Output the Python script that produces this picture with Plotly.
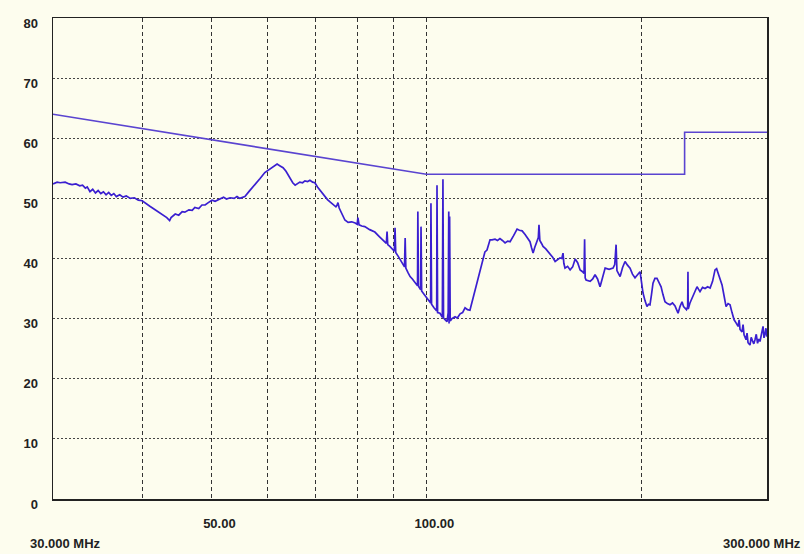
import plotly.graph_objects as go

# ---- data -------------------------------------------------------------
trace_freq_mhz = [
    30.0, 30.4, 30.7, 31.2, 31.6, 31.9, 32.3, 32.7, 33.0, 33.3,
    33.5, 33.8, 34.1, 34.4, 34.7, 35.0, 35.3, 35.6, 35.9, 36.2,
    36.5, 36.8, 37.2, 37.6, 38.0, 38.5, 39.0, 39.5, 40.0, 40.4,
    41.0, 41.6, 42.4, 42.9, 43.3, 43.7, 43.9, 44.5, 45.0, 45.5,
    45.9, 46.5, 47.0, 47.4, 48.0, 48.5, 49.0, 49.5, 50.1, 50.6,
    51.4, 52.0, 52.5, 53.1, 53.8, 54.3, 54.8, 55.7, 56.5, 57.5,
    58.5, 59.4, 60.2, 60.8, 61.3, 61.8, 62.4, 63.0, 63.6, 64.4,
    65.0, 65.5, 66.0, 66.5, 67.1, 67.6, 68.2, 68.7, 69.3, 69.8,
    70.4, 71.0, 71.5, 72.1, 72.7, 73.3, 74.0, 74.7, 75.0, 75.2,
    75.5, 75.7, 76.3, 76.9, 77.7, 78.6, 79.5, 80.0, 80.2, 80.5,
    81.2, 82.0, 83.3, 84.7, 86.0, 87.5, 87.9, 88.1, 88.3, 88.9,
    89.8, 90.2, 90.4, 90.6, 91.3, 91.9, 92.6, 93.2, 93.4, 93.6,
    94.3, 94.9, 95.6, 96.3, 97.0, 97.2, 97.3, 97.5, 98.0, 98.2,
    98.3, 98.5, 99.2, 99.9, 100.6, 101.2, 101.4, 101.5, 101.7, 102.5,
    103.2, 103.4, 103.5, 103.7, 104.5, 105.0, 105.3, 105.5, 105.7, 106.3,
    106.9, 107.3, 107.5, 107.6, 107.8, 108.0, 108.6, 109.7, 110.5, 111.5,
    112.4, 113.3, 114.2, 115.1, 116.0, 117.0, 118.0, 118.9, 119.8, 120.8,
    121.6, 122.2, 122.8, 123.6, 124.8, 125.8, 126.8, 127.8, 128.9, 130.0,
    131.0, 132.5, 134.0, 135.0, 136.2, 137.5, 138.8, 139.7, 140.4, 141.1,
    141.8, 142.9, 143.5, 143.8, 144.2, 145.0, 145.7, 147.0, 148.0, 149.0,
    150.3, 151.5, 152.5, 153.9, 154.8, 155.4, 155.8, 156.4, 157.7, 159.0,
    160.3, 161.6, 162.9, 164.2, 165.5, 166.3, 166.6, 166.9, 167.4, 168.5,
    169.6, 171.0, 172.3, 173.7, 175.1, 176.5, 178.0, 180.3, 182.6, 183.6,
    184.4, 184.9, 186.8, 188.3, 189.8, 191.3, 192.9, 194.4, 196.0, 197.6,
    199.2, 200.2, 201.1, 202.4, 203.7, 204.7, 205.7, 206.7, 207.7, 209.0,
    210.4, 211.8, 213.2, 214.5, 215.9, 217.6, 219.4, 221.2, 223.0, 224.1,
    225.2, 226.6, 228.1, 229.2, 230.3, 231.4, 232.3, 232.5, 232.7, 234.0,
    235.6, 237.5, 239.4, 240.5, 241.7, 243.7, 245.7, 247.7, 249.7, 251.7,
    253.7, 255.0, 256.2, 257.8, 259.5, 261.2, 262.9, 264.6, 266.3, 268.0,
    269.8, 271.5, 273.3, 274.2, 275.0, 276.8, 277.7, 278.6, 280.4, 281.3,
    282.2, 284.0, 285.1, 286.3, 287.5, 288.6, 289.8, 291.0, 292.1, 293.3,
    294.7, 296.2, 297.1, 298.0, 299.0, 300.0,
]

trace_level_dbuv = [
    52.4, 52.7, 52.6, 52.7, 52.4, 52.3, 52.4, 52.1, 52.2, 51.7,
    51.9, 51.1, 51.5, 50.9, 51.3, 50.8, 51.1, 50.6, 51.0, 50.5,
    50.8, 50.3, 50.6, 50.2, 50.4, 50.0, 50.1, 49.7, 49.6, 49.2,
    48.7, 48.2, 47.6, 47.2, 46.8, 46.3, 46.8, 47.4, 47.2, 47.8,
    47.7, 48.1, 48.0, 48.5, 48.3, 48.9, 48.9, 49.3, 49.7, 49.5,
    49.9, 50.2, 49.9, 50.1, 50.0, 50.3, 50.0, 50.3, 51.2, 52.2,
    53.3, 54.3, 54.8, 55.2, 55.5, 55.7, 55.4, 55.1, 54.5, 53.4,
    52.6, 52.2, 52.5, 52.7, 52.6, 52.9, 52.8, 53.0, 52.7, 52.6,
    51.9, 51.3, 50.8, 50.4, 49.8, 49.4, 49.0, 48.6, 48.9, 49.3,
    48.4, 48.1, 47.2, 46.4, 46.0, 46.1, 45.9, 45.7, 46.8, 45.6,
    45.4, 45.3, 44.8, 44.4, 43.6, 42.8, 42.5, 44.5, 42.3, 42.0,
    41.4, 41.2, 45.1, 41.0, 40.4, 39.8, 39.0, 38.6, 43.4, 38.4,
    37.6, 37.0, 36.6, 36.0, 35.6, 35.5, 47.8, 35.4, 34.9, 34.8,
    45.3, 34.6, 34.1, 33.6, 33.1, 32.7, 32.6, 49.2, 32.4, 31.8,
    31.5, 31.3, 52.2, 31.0, 30.9, 30.4, 30.2, 53.2, 30.1, 29.8,
    29.5, 31.0, 47.8, 29.2, 47.0, 29.6, 30.0, 30.3, 30.1, 30.8,
    31.0, 31.8, 31.5, 31.4, 33.0, 34.8, 36.5, 38.1, 39.6, 41.1,
    41.4, 42.4, 43.1, 43.1, 43.2, 43.0, 43.3, 43.0, 42.6, 42.9,
    42.8, 43.8, 44.9, 44.7, 44.6, 44.0, 43.4, 42.8, 41.8, 40.9,
    41.8, 42.8, 43.5, 45.6, 43.0, 42.5, 42.0, 41.6, 41.2, 40.9,
    40.2, 39.5, 39.8, 40.1, 40.0, 40.9, 39.2, 38.4, 38.7, 38.1,
    38.6, 39.9, 39.3, 38.1, 37.8, 37.5, 43.2, 36.8, 36.4, 36.3,
    36.2, 36.6, 37.3, 36.6, 35.3, 36.8, 38.4, 38.2, 38.4, 39.0,
    42.3, 38.0, 37.0, 38.5, 39.5, 38.9, 38.4, 37.4, 36.8, 37.3,
    37.8, 36.0, 34.3, 33.0, 32.0, 32.4, 32.3, 34.0, 35.9, 36.7,
    36.7, 36.0, 35.3, 34.0, 32.8, 32.5, 32.3, 32.6, 32.1, 31.5,
    30.9, 32.0, 32.8, 32.0, 31.8, 31.5, 32.0, 37.8, 31.6, 32.6,
    33.4, 34.6, 35.3, 34.9, 34.5, 35.2, 35.0, 35.3, 35.1, 36.2,
    38.1, 38.3, 37.6, 36.8, 35.6, 33.8, 32.0, 32.5, 32.3, 31.0,
    29.8, 29.3, 28.7, 29.8, 28.2, 27.8, 29.0, 27.3, 26.5, 27.6,
    26.0, 25.6, 26.9, 26.3, 25.8, 26.5, 27.4, 25.9, 26.6, 26.2,
    27.6, 28.7, 26.8, 27.3, 28.4, 27.0,
]

limit_freq_mhz = [30, 100, 230, 230, 300]
limit_level_dbuv = [64, 54, 54, 61, 61]

x_grid_mhz = [40, 50, 60, 70, 80, 90, 100, 200]
x_tick_text = ["", "50.00", "", "", "", "", "100.00", ""]
y_ticks = [0, 10, 20, 30, 40, 50, 60, 70, 80]
y_tick_text = ["0", "10", "20", "30", "40", "50", "60", "70", "80"]

start_label = "30.000 MHz"
stop_label = "300.000 MHz"

# ---- figure -----------------------------------------------------------
BG = "#fdfdee"
FONT = "Liberation Sans, Arial, sans-serif"
TXT = "#222222"
FSIZE = 13

fig = go.Figure()
fig.add_trace(go.Scatter(
    x=limit_freq_mhz, y=limit_level_dbuv, mode="lines",
    line=dict(color="#5a44d0", width=1.6), hoverinfo="skip", showlegend=False,
))
fig.add_trace(go.Scatter(
    x=trace_freq_mhz, y=trace_level_dbuv, mode="lines",
    line=dict(color="#3a1fd0", width=1.7), hoverinfo="skip", showlegend=False,
))

fig.update_layout(
    template="none",
    width=804, height=554,
    margin=dict(l=53, r=37, t=18, b=55, autoexpand=False),
    paper_bgcolor=BG, plot_bgcolor=BG,
    font=dict(family=FONT, size=FSIZE, color=TXT, weight="bold"),
    showlegend=False,
)

fig.update_xaxes(
    type="log", range=[1.4771212547, 2.4771212547], automargin=False,
    tickvals=x_grid_mhz, ticktext=x_tick_text,
    showgrid=True, gridcolor="#333333", gridwidth=1, griddash="4px,3px",
    showline=True, mirror=True, linecolor="#222222", linewidth=1.5,
    ticks="", ticklabelstandoff=12, ticklabelshift=8,
    tickfont=dict(family=FONT, size=FSIZE, color=TXT, weight="bold"),
    zeroline=False,
)
fig.update_yaxes(
    range=[0, 80], tickvals=y_ticks, ticktext=y_tick_text, automargin=False,
    showgrid=True, gridcolor="#444444", gridwidth=1, griddash="2px,2px",
    showline=True, mirror=True, linecolor="#222222", linewidth=1.5,
    ticks="", ticklabelstandoff=11, ticklabelshift=5,
    tickfont=dict(family=FONT, size=FSIZE, color=TXT, weight="bold"),
    zeroline=False,
)

fig.add_annotation(
    text=start_label, xref="paper", yref="paper",
    x=-0.035, y=-0.0915, xanchor="left", yanchor="middle",
    showarrow=False, font=dict(family=FONT, size=FSIZE, color=TXT, weight="bold"),
)
fig.add_annotation(
    text=stop_label, xref="paper", yref="paper",
    x=1.050, y=-0.0915, xanchor="right", yanchor="middle",
    showarrow=False, font=dict(family=FONT, size=FSIZE, color=TXT, weight="bold"),
)

fig.write_html(
    "out.html",
    config={"displayModeBar": False, "staticPlot": True},
    post_script=(
        "document.body.style.margin='0';document.body.style.padding='0';"
        "document.body.style.background='" + BG + "';"
        "document.documentElement.style.overflow='hidden';"
    ),
)
